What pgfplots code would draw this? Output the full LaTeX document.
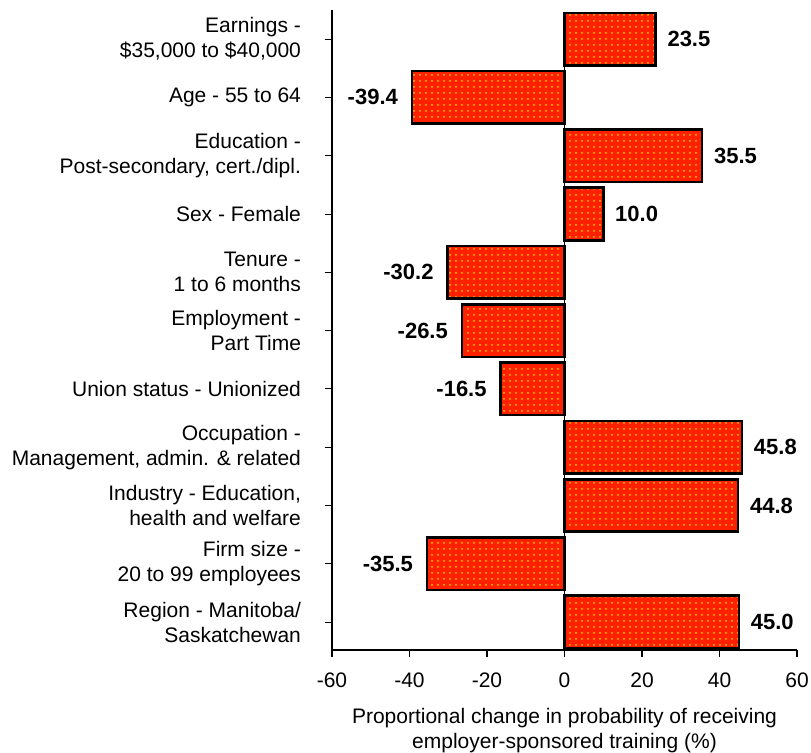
\documentclass[border=0pt]{standalone}
\usepackage{fontspec}
\setmainfont{Liberation Sans}
\usepackage{pgfplots}
\pgfplotsset{compat=1.18}
\usetikzlibrary{patterns}
\definecolor{barred}{RGB}{255,32,0}
\definecolor{dotyel}{RGB}{255,200,0}
\begin{document}
\begin{tikzpicture}
\useasboundingbox (0,0) rectangle (405.5pt,376.5pt);
\begin{axis}[
  at={(166pt,51.5pt)}, anchor=south west,
  scale only axis, width=232.5pt, height=320pt,
  xmin=-60, xmax=60, ymin=-0.5, ymax=10.48,
  y dir=reverse,
  axis x line=bottom, axis y line=left,
  axis line style={line width=1pt, -},
  xtick={-60,-40,...,60},
  ytick={0,...,10},
  yticklabels={{Earnings -\\\$35,000 to \$40,000},{Age - 55 to 64},{Education -\\Post-secondary, cert./dipl.},{Sex - Female},{Tenure -\\1 to 6 months},{Employment -\\Part Time},{Union status - Unionized},{Occupation -\\Management, admin. \& related},{Industry - Education,\\health and welfare},{Firm size -\\20 to 99 employees},{Region - Manitoba/\\Saskatchewan}},
  tick align=outside,
  x tick style={line width=0.8pt, black},
  y tick style={line width=0.4pt, black},
  major tick length=3.5pt,
  /pgf/number format/assume math mode=true,
  ticklabel style={font=\fontsize{10.5}{12.5}\selectfont, text=black},
  yticklabel style={align=right, xshift=-8.5pt},
  xticklabel style={yshift=-4.5pt},
  xlabel={Proportional change in probability of receiving\\employer-sponsored training (\%)},
  xlabel style={align=center, font=\fontsize{10.5}{12.5}\selectfont, yshift=-3.5pt},
  xbar, bar width=0.9, bar shift=0pt,
  nodes near coords,
  nodes near coords style={font=\bfseries\fontsize{11}{13}\selectfont, /pgf/number format/fixed, /pgf/number format/fixed zerofill, /pgf/number format/precision=1, /pgf/number format/assume math mode=true},
  clip=false,
]
\addplot[draw=black, line width=1.3pt, fill=barred, postaction={pattern=dots, pattern color=dotyel},
  nodes near coords style={anchor=west, xshift=2pt}]
  coordinates {(23.5,0) (35.5,2) (10.0,3) (45.8,7) (44.8,8) (45.0,10)};
\addplot[draw=black, line width=1.3pt, fill=barred, postaction={pattern=dots, pattern color=dotyel},
  nodes near coords style={anchor=east, xshift=-3pt}]
  coordinates {(-39.4,1) (-30.2,4) (-26.5,5) (-16.5,6) (-35.5,9)};
\draw[line width=0.6pt] (axis cs:0,-0.45) -- (axis cs:0,10.48);
\end{axis}
\end{tikzpicture}
\end{document}
